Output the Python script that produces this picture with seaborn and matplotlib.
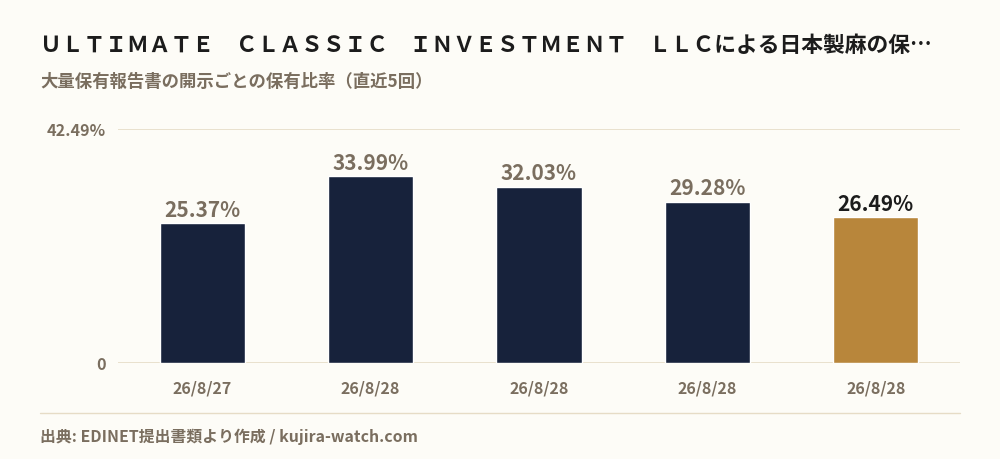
import matplotlib
matplotlib.use('Agg')
import matplotlib.pyplot as plt
import seaborn as sns
import pandas as pd

# chart data
dates = ['26/8/27', '26/8/28', '26/8/28', '26/8/28', '26/8/28']
ratios = [25.37, 33.99, 32.03, 29.28, 26.49]
y_max = 42.49

title = 'ＵＬＴＩＭＡＴＥ　ＣＬＡＳＳＩＣ　ＩＮＶＥＳＴＭＥＮＴ　ＬＬＣによる日本製麻の保…'
subtitle = '大量保有報告書の開示ごとの保有比率（直近5回）'
source = '出典: EDINET提出書類より作成 / kujira-watch.com'

bg = '#fdfcf7'
navy = '#17223b'
gold = '#b8863b'
gray = '#7a6e5f'
line_col = '#e6dcc6'

sns.set_style('white')
plt.rcParams['font.family'] = ['Noto Sans CJK JP', 'DejaVu Sans']

df = pd.DataFrame({'idx': range(len(dates)), 'ratio': ratios})
colors = [navy] * (len(dates) - 1) + [gold]

fig = plt.figure(figsize=(10, 4.6), dpi=100, facecolor=bg)
ax = fig.add_axes([0.118, 0.2087, 0.842, 0.5087], facecolor=bg)

for y in [0, y_max]:
    ax.axhline(y, color=line_col, lw=1.2, zorder=0)

sns.barplot(data=df, x='idx', y='ratio', hue='idx', palette=colors,
            legend=False, width=0.505, saturation=1, ax=ax, zorder=2)

ax.set_xlim(-0.5, len(dates) - 0.5)
ax.set_ylim(0, y_max)
ax.set_yticks([0, y_max])
ax.set_yticklabels(['0', f'{y_max:.2f}%'])
ax.set_xticks(range(len(dates)))
ax.set_xticklabels(dates)
ax.set_xlabel('')
ax.set_ylabel('')
for s in ax.spines.values():
    s.set_visible(False)
ax.tick_params(axis='y', length=0, colors=gray, labelsize=11.6, pad=9)
ax.tick_params(axis='x', length=0, colors=gray, labelsize=11.5, pad=12)
for lab in ax.get_xticklabels() + ax.get_yticklabels():
    lab.set_fontweight('bold')

# value labels
for i, v in enumerate(ratios):
    c = '#1c1c1c' if i == len(ratios) - 1 else gray
    ax.text(i, v + 0.6, f'{v:.2f}%', ha='center', va='bottom',
            fontsize=15, fontweight='bold', color=c)

fig.text(0.04, 1 - 45 / 460, title, fontsize=15.7, fontweight='bold',
         color='#1c1c1c', va='center', ha='left')
fig.text(0.04, 1 - 82 / 460, subtitle, fontsize=12.5, fontweight='bold',
         color=gray, va='center', ha='left')
fig.add_artist(plt.Line2D([0.04, 0.96], [1 - 414 / 460] * 2,
                          color=line_col, lw=1, transform=fig.transFigure))
fig.text(0.04, 1 - 437 / 460, source, fontsize=11.4, fontweight='bold',
         color=gray, va='center', ha='left')

fig.savefig('out.png', dpi=100, facecolor=bg)
